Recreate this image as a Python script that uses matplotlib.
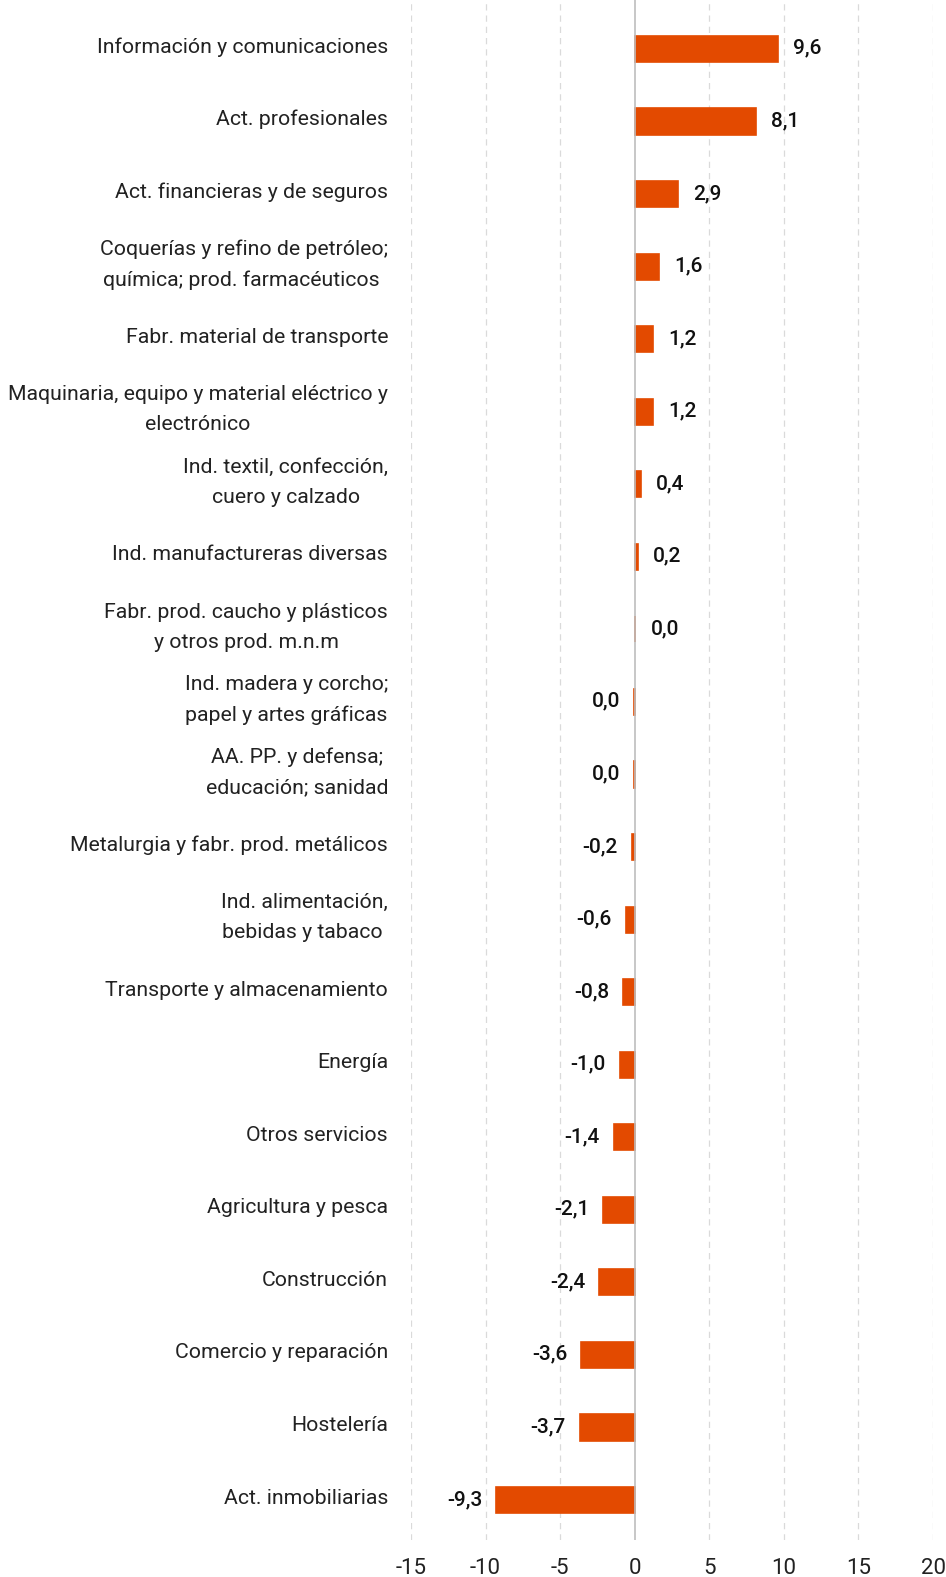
import numpy as np
import matplotlib.pyplot as plt

plt.rcParams['font.family'] = ['Roboto', 'DejaVu Sans']

sectores = [
    "Información y comunicaciones",
    "Act. profesionales",
    "Act. financieras y de seguros",
    "Coquerías y refino de petróleo;\nquímica; prod. farmacéuticos ",
    "Fabr. material de transporte",
    "Maquinaria, equipo y material eléctrico y\nelectrónico",
    "Ind. textil, confección,\ncuero y calzado",
    "Ind. manufactureras diversas",
    "Fabr. prod. caucho y plásticos\ny otros prod. m.n.m",
    "Ind. madera y corcho;\npapel y artes gráficas",
    "AA. PP. y defensa;\neducación; sanidad",
    "Metalurgia y fabr. prod. metálicos",
    "Ind. alimentación,\nbebidas y tabaco ",
    "Transporte y almacenamiento",
    "Energía",
    "Otros servicios",
    "Agricultura y pesca",
    "Construcción",
    "Comercio y reparación",
    "Hostelería",
    "Act. inmobiliarias",
]
valores = [9.6, 8.1, 2.9, 1.6, 1.2, 1.2, 0.4, 0.2, 0.04, -0.04, -0.04, -0.2,
           -0.6, -0.8, -1.0, -1.4, -2.1, -2.4, -3.6, -3.7, -9.3]
xticks = [-15, -10, -5, 0, 5, 10, 15, 20]

naranja = '#E34A00'

fig = plt.figure(figsize=(9.46, 15.77), dpi=100)
ax = fig.add_axes([411/946, 1 - 1540/1577, (933 - 411)/946, 1540/1577])

y = np.arange(len(sectores))
ax.barh(y, valores, height=0.36, color=naranja, edgecolor=naranja, linewidth=1.2, zorder=3)

for yi, v in zip(y, valores):
    txt = f"{v:.1f}".replace('.', ',').replace('-0,0', '0,0')
    if v >= 0:
        ax.annotate(txt, (v, yi), xytext=(11, 0.5), textcoords='offset points',
                    ha='left', va='center', fontsize=15, fontweight='medium', color='#111111')
    else:
        ax.annotate(txt, (v, yi), xytext=(-10, 0.5), textcoords='offset points',
                    ha='right', va='center', fontsize=15, fontweight='medium', color='#111111')

# etiquetas de sectores a la izquierda
for yi, s in zip(y, sectores):
    ax.annotate(s, (0, yi), xycoords=('axes fraction', 'data'),
                xytext=(-16.5, 1.5), textcoords='offset points',
                ha='right', va='center', multialignment='center',
                fontsize=15.3, color='#222222', linespacing=1.75)

ax.set_xlim(-15, 20)
ax.set_ylim(len(sectores) - 1 + 0.55, -0.675)
ax.set_xticks(xticks)
ax.set_xticklabels([str(t) for t in xticks], fontsize=16, color='#222222')
ax.set_yticks([])
ax.tick_params(axis='x', length=0, pad=13)

for t in xticks:
    if t == 0:
        ax.axvline(t, color='#BDBDBD', lw=1.2, zorder=4)
    else:
        ax.axvline(t, color='#DADADA', lw=0.9, ls=(0, (5, 4)), zorder=1)

for s in ax.spines.values():
    s.set_visible(False)

fig.savefig('out.png', dpi=100)
